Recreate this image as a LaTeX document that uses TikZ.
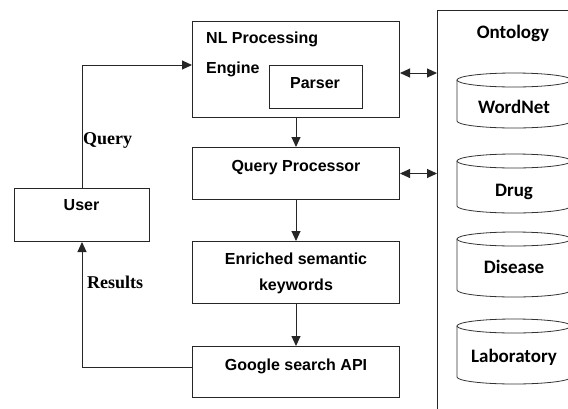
\documentclass[tikz,border=0pt]{standalone}
\usepackage{fontspec}
\setmainfont{Liberation Sans}
\newfontfamily\calfont{Carlito}
\newfontfamily\serfont{Liberation Serif}
\usetikzlibrary{arrows.meta}
\newcommand\mycyl[3]{%
  \draw[dbline] (#1,#2+7) ellipse [x radius=57pt, y radius=7pt];
  \draw[dbline] (#1-57,#2+7) -- (#1-57,#3-7) arc[start angle=180,end angle=360,x radius=57pt,y radius=7pt] -- (#1+57,#2+7);
}
\begin{document}
\begin{tikzpicture}[x=1pt,y=-1pt,
  box/.style={draw=black!85,line width=1pt,inner sep=0pt,minimum width=207pt,anchor=north west},
  txt/.style={inner sep=0pt,text height=11.5pt,text depth=0pt,font=\fontsize{16}{19}\selectfont\bfseries},
  dbline/.style={draw=black!80,line width=0.8pt},
  dbt/.style={inner sep=0pt,text height=12pt,text depth=0pt,font=\calfont\fontsize{19}{22}\selectfont\bfseries},
  lbl/.style={inner sep=0pt,anchor=west,text height=12pt,text depth=0pt,font=\serfont\fontsize{18}{20}\selectfont\bfseries},
  arr/.style={draw=black!85,line width=1pt,-{Triangle[length=10pt,width=9pt]}},
  darr/.style={draw=black!85,line width=1pt,{Triangle[length=10pt,width=9pt]}-{Triangle[length=10pt,width=9pt]}}]
\useasboundingbox (0,0) rectangle (568,408);
\clip (0,0) rectangle (568,408);
% boxes
\node[box,minimum height=96pt] (nl) at (192,21) {};
\node[box,minimum width=93pt,minimum height=43pt] (parser) at (269,65) {};
\node[box,minimum height=52pt] (qp) at (192,147) {};
\node[box,minimum height=62pt] (enr) at (192,241) {};
\node[box,minimum height=51pt] (gs) at (192,346) {};
\node[box,minimum width=135pt,minimum height=53pt] (user) at (14,188) {};
\node[box,minimum width=200pt,minimum height=420pt] (ont) at (437,10) {};
% texts
\node[txt,anchor=base west] (t1) at (206,43) {NL Processing};
\node[txt,anchor=base west] (t2) at (206,73) {Engine};
\node[txt] (t3) at (315,83) {Parser};
\node[txt] (t4) at (296,166) {Query Processor};
\node[txt] (t5) at (296,259) {Enriched semantic};
\node[txt] (t6) at (296,285) {keywords};
\node[txt] (t7) at (296,365) {Google search API};
\node[txt] (t8) at (81.5,205) {User};
\node[dbt] (t9) at (513,32) {Ontology};
% cylinders
\mycyl{514}{73}{128}
\mycyl{514}{154}{213}
\mycyl{514}{232}{297}
\mycyl{514}{319}{384}
\node[dbt] (w1) at (514,107) {WordNet};
\node[dbt] (w2) at (514,190) {Drug};
\node[dbt] (w3) at (514,267) {Disease};
\node[dbt] (w4) at (514,356) {Laboratory};
% labels
\node[lbl] (q) at (83,138) {Query};
\node[lbl] (r) at (87,282) {Results};
% connectors
\draw[arr] (user.north) |- (nl.west |- parser.north);
\draw[arr] (nl.south) -- (qp.north);
\draw[arr] (qp.south) -- (enr.north);
\draw[arr] (enr.south) -- (gs.north);
\coordinate (a2) at (0,367);
\draw[arr] (gs.west |- a2) -| (user.south);
\coordinate (a1) at (0,73);
\draw[darr] (nl.east |- a1) -- (ont.west |- a1);
\draw[darr] (qp.east) -- (qp.east -| ont.west);
\end{tikzpicture}
\end{document}
